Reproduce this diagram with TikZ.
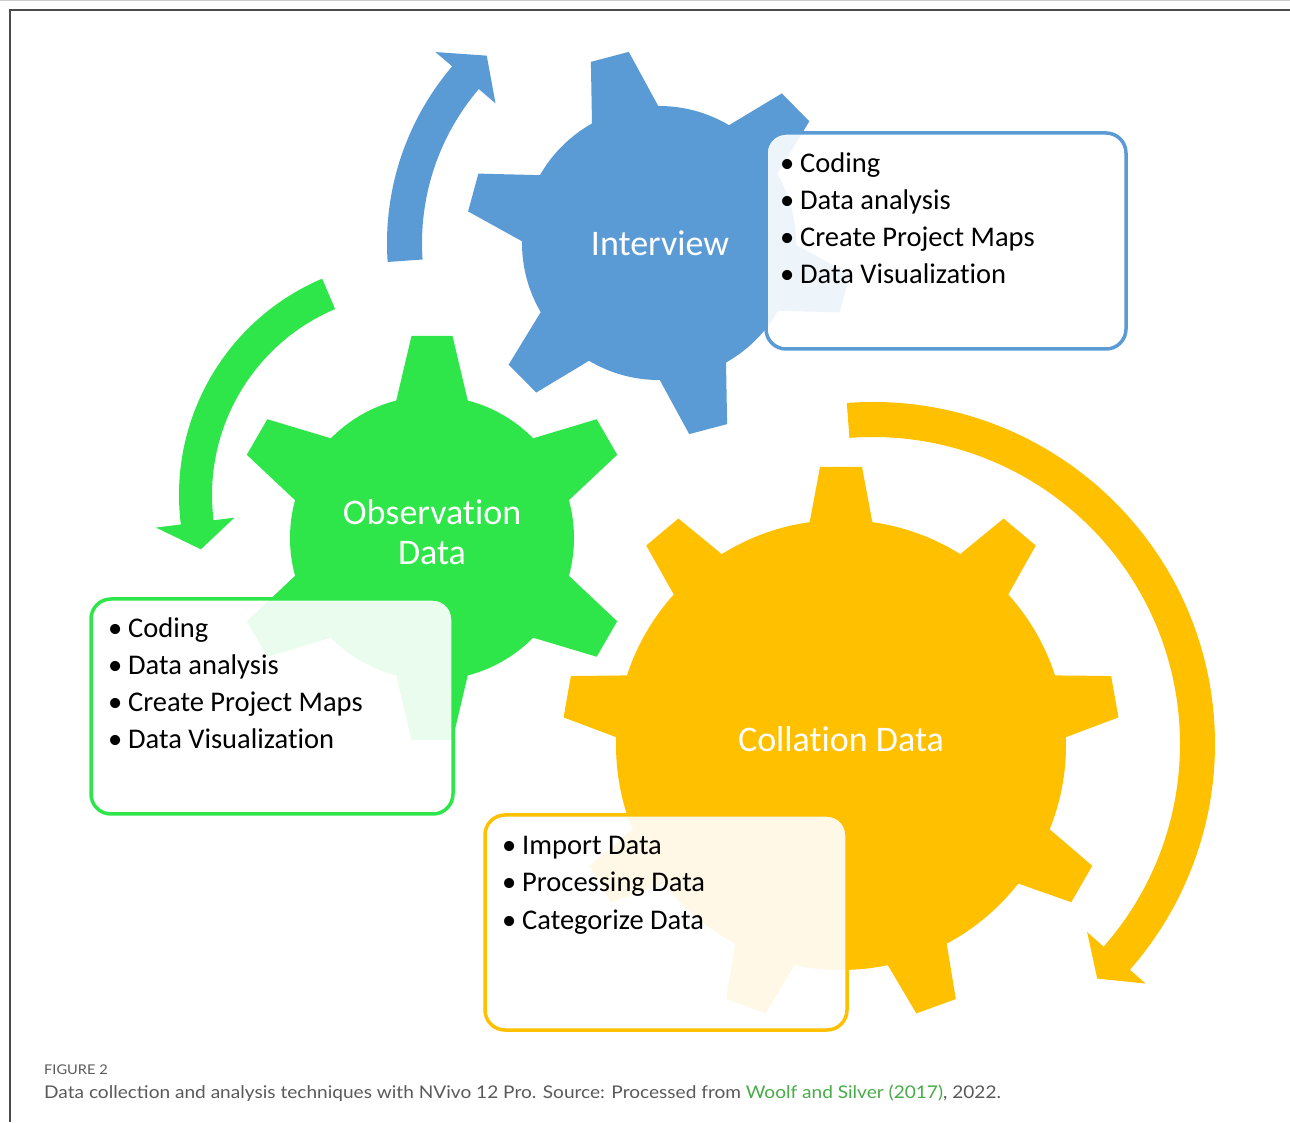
\documentclass[tikz,border=0pt]{standalone}
\usepackage{fontspec}
\setmainfont[RawFeature={-liga}]{Carlito}
\newfontfamily\capfont[FakeStretch=1.09]{Lato}
\definecolor{gblue}{RGB}{91,155,213}
\definecolor{ggreen}{RGB}{46,230,74}
\definecolor{gyellow}{RGB}{255,192,0}
\definecolor{capgray}{RGB}{90,90,90}
\definecolor{linkgreen}{RGB}{72,172,72}
\definecolor{framegray}{RGB}{75,75,75}
% #1 centre, #2 colour, #3 inner radius, #4 outer radius, #5 teeth, #6 first angle, #7 base half width, #8 tip half width
\newcommand{\mygear}[8]{%
  \fill[#2] (#1) circle[radius=#3pt];
  \pgfmathsetmacro\gstep{360/#5}
  \foreach \k in {1,...,#5}{
    \fill[#2, shift={(#1)}, rotate={#6+(\k-1)*\gstep}]
      (#3-20,-#7) -- (#4,-#8) -- (#4,#8) -- (#3-20,#7) -- cycle;
  }
}
\begin{document}
\begin{tikzpicture}[x=1pt,y=1pt,
  infobox/.style={line width=3.5pt, fill=white, fill opacity=0.9, rounded corners=20pt},
  item/.style={anchor=base west, inner sep=0pt, font=\fontsize{28.5}{34}\selectfont, text=black},
  glabel/.style={anchor=base, inner sep=0pt, font=\fontsize{36}{40}\selectfont, text=white},
]
\useasboundingbox (0,0) rectangle (1290,1122);
\fill[white] (0,0) rectangle (1290,1122);
% frame
\draw[black!20, line width=1pt] (0,1121.5) -- (1290,1121.5);
\draw[framegray, line width=1.5pt] (10,0) -- (10,1112) -- (1290,1112);

% centres
\coordinate (bc) at (659,879);
\coordinate (gc) at (432,584);
\coordinate (yc) at (841,377);
\coordinate (ga) at (414,627);
\coordinate (ya) at (873,378);

% circular arrows
\begin{scope}[shift={(bc)}]
\fill[gblue] (184:272pt) arc[start angle=184, end angle=139.5, radius=272pt]
  -- (139.5:294pt) -- (132.6:254.5pt) -- (139.5:215pt) -- (139.5:237pt)
  arc[start angle=139.5, end angle=184, radius=237pt] -- cycle;
\end{scope}
\begin{scope}[shift={(ga)}]
\fill[ggreen] (113:235pt) arc[start angle=113, end angle=187.2, radius=235pt]
  -- (187.2:260pt) -- (194.3:220pt) -- (187.2:181pt) -- (187.2:202pt)
  arc[start angle=187.2, end angle=113, radius=202pt] -- cycle;
\end{scope}
\begin{scope}[shift={(ya)}]
\fill[gyellow] (94.4:342pt) arc[start angle=94.4, end angle=-41.3, radius=342pt]
  -- (-41.3:363pt) -- (-46.3:324.5pt) -- (-41.3:285pt) -- (-41.3:307pt)
  arc[start angle=-41.3, end angle=94.4, radius=307pt] -- cycle;
\end{scope}

% gears
\mygear{bc}{gblue}{137}{192.5}{6}{44.8}{38.1}{19.6}
\mygear{gc}{ggreen}{142}{202}{6}{30}{39.4}{20.5}
\mygear{yc}{gyellow}{225}{278}{9}{10}{34.7}{21}

% gear labels
\node[glabel] (lint) at (660,866) {Interview};
\node[glabel] (lobs1) at (432,597) {Observation};
\node[glabel] (lobs2) at (432,557) {Data};
\node[glabel] (lcol) at (841,370) {Collation Data};

% boxes
\draw[infobox, draw=gblue] (766,989) rectangle (1126,773);
\draw[infobox, draw=ggreen] (91,523) rectangle (453,308);
\draw[infobox, draw=gyellow] (485,307) rectangle (847,92);

% box texts
\node[item] (i1) at (780,949) {\makebox[20pt][l]{•}Coding};
\node[item] (i2) at (780,912) {\makebox[20pt][l]{•}Data analysis};
\node[item] (i3) at (780,875) {\makebox[20pt][l]{•}Create Project Maps};
\node[item] (i4) at (780,838) {\makebox[20pt][l]{•}Data Visualization};

\node[item] (o1) at (108,484) {\makebox[20pt][l]{•}Coding};
\node[item] (o2) at (108,447) {\makebox[20pt][l]{•}Data analysis};
\node[item] (o3) at (108,410) {\makebox[20pt][l]{•}Create Project Maps};
\node[item] (o4) at (108,373) {\makebox[20pt][l]{•}Data Visualization};

\node[item] (c1) at (502,267) {\makebox[20pt][l]{•}Import Data};
\node[item] (c2) at (502,230) {\makebox[20pt][l]{•}Processing Data};
\node[item] (c3) at (502,193) {\makebox[20pt][l]{•}Categorize Data};

% caption
\node[anchor=base west, inner sep=0pt, text=capgray, font=\capfont\fontsize{13.4}{15}\selectfont] (fig) at (44,48) {FIGURE 2};
\node[anchor=base west, inner sep=0pt, text=capgray, font=\capfont\fontsize{17.5}{20}\selectfont] (cap) at (44,24)
  {Data collection and analysis techniques with NVivo 12 Pro. Source: Processed from \textcolor{linkgreen}{Woolf and Silver (2017)}, 2022.};
\end{tikzpicture}
\end{document}
